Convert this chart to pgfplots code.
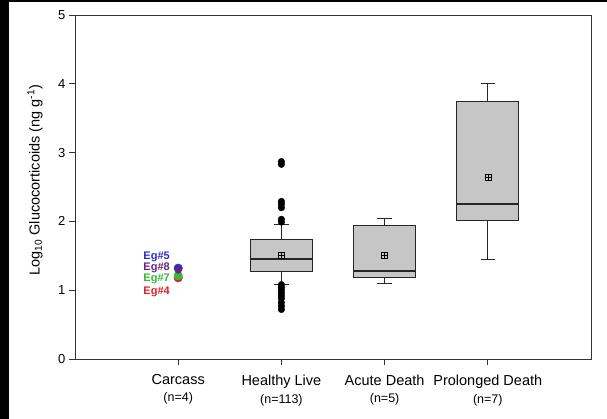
\documentclass[border=0pt]{standalone}
\usepackage{pgfplots}
\pgfplotsset{compat=1.18}
\usepgfplotslibrary{statistics}
\usepackage{fontspec}
\setmainfont{Liberation Sans}
\definecolor{boxgray}{RGB}{198,198,198}
\definecolor{egblue}{RGB}{45,45,200}
\definecolor{egpurple}{RGB}{110,35,120}
\definecolor{eggreen}{RGB}{55,185,60}
\definecolor{egred}{RGB}{215,35,45}
\begin{document}
\begin{tikzpicture}
\useasboundingbox (0,0) rectangle (607pt,419pt);
\fill[black] (0,0) rectangle (9pt,419pt);
\fill[black] (0,417pt) rectangle (607pt,419pt);
\begin{axis}[
  at={(75pt,60pt)}, anchor=south west,
  scale only axis, width=516pt, height=344pt,
  xmin=-1, xmax=4, ymin=0, ymax=5,
  boxplot/draw direction=y,
  boxplot/every median/.style={line width=1.4pt},
  axis line style={black!80, line width=0.9pt},
  xtick={0,1,2,3},
  xticklabels={
    {\fontsize{14.5}{17}\selectfont Carcass\\[5pt]\fontsize{12.5}{14}\selectfont(n=4)},
    {\fontsize{14.5}{17}\selectfont Healthy Live\\[5pt]\fontsize{12.5}{14}\selectfont(n=113)},
    {\fontsize{14.5}{17}\selectfont Acute Death\\[5pt]\fontsize{12.5}{14}\selectfont(n=5)},
    {\fontsize{14.5}{17}\selectfont Prolonged Death\\[5pt]\fontsize{12.5}{14}\selectfont(n=7)}},
  xticklabel style={align=center, yshift=-6pt},
  ytick={0,1,2,3,4,5},
  yticklabel style={font=\fontsize{13}{15}\selectfont},
  /pgf/number format/assume math mode=true,
  tick align=outside,
  major tick length=6pt,
  tick style={black!80, line width=0.8pt},
  xtick pos=bottom, ytick pos=left,
  ylabel={Log\textsubscript{10} Glucocorticoids (ng g\textsuperscript{-1})},
  ylabel style={font=\fontsize{14.5}{17}\selectfont, at={(axis description cs:-0.0775,0.52)}, anchor=center, rotate=0},
  clip=false,
]
% Healthy Live
\addplot[draw=black!85, line width=0.9pt, fill=boxgray,
  boxplot prepared={draw position=1, lower whisker=1.085, lower quartile=1.27,
    median=1.453, upper quartile=1.744, upper whisker=1.96,
    box extend=0.6, whisker extend=0.14}] coordinates {};
% Acute Death
\addplot[draw=black!85, line width=0.9pt, fill=boxgray,
  boxplot prepared={draw position=2, lower whisker=1.10, lower quartile=1.19,
    median=1.28, upper quartile=1.94, upper whisker=2.05,
    box extend=0.6, whisker extend=0.14}] coordinates {};
% Prolonged Death
\addplot[draw=black!85, line width=0.9pt, fill=boxgray,
  boxplot prepared={draw position=3, lower whisker=1.44, lower quartile=2.01,
    median=2.25, upper quartile=3.75, upper whisker=4.01,
    box extend=0.6, whisker extend=0.14}] coordinates {};
% outliers
\addplot[only marks, mark=*, mark size=3.3pt, black] coordinates {
  (1,2.87) (1,2.83) (1,2.29) (1,2.25) (1,2.20) (1,2.03) (1,1.99)
  (1,1.08) (1,1.04) (1,1.00) (1,0.96) (1,0.92) (1,0.88) (1,0.82) (1,0.77) (1,0.72)};
% means
\addplot[only marks, mark=square, mark size=3pt, black, line width=0.6pt] coordinates {(1,1.50) (2,1.51) (3,2.635)};
\addplot[only marks, mark=+, mark size=3pt, black, line width=0.6pt] coordinates {(1,1.50) (2,1.51) (3,2.635)};
% carcass points
\addplot[only marks, mark=*, mark size=4.3pt, draw=egred, fill=egred] coordinates {(0,1.18)};
\addplot[only marks, mark=*, mark size=4.3pt, draw=eggreen, fill=eggreen] coordinates {(0,1.21)};
\addplot[only marks, mark=*, mark size=4.3pt, draw=egblue, fill=egblue] coordinates {(0,1.32)};
\addplot[only marks, mark=*, mark size=3.2pt, draw=egpurple, fill=egpurple] coordinates {(0,1.29)};
\node[anchor=east, font=\bfseries\fontsize{11}{13}\selectfont, text=egblue, inner sep=0pt] at (axis cs:-0.08,1.48) {Eg\#5};
\node[anchor=east, font=\bfseries\fontsize{11}{13}\selectfont, text=egpurple, inner sep=0pt] at (axis cs:-0.08,1.32) {Eg\#8};
\node[anchor=east, font=\bfseries\fontsize{11}{13}\selectfont, text=eggreen, inner sep=0pt] at (axis cs:-0.08,1.16) {Eg\#7};
\node[anchor=east, font=\bfseries\fontsize{11}{13}\selectfont, text=egred, inner sep=0pt] at (axis cs:-0.08,0.97) {Eg\#4};
\end{axis}
\end{tikzpicture}
\end{document}
